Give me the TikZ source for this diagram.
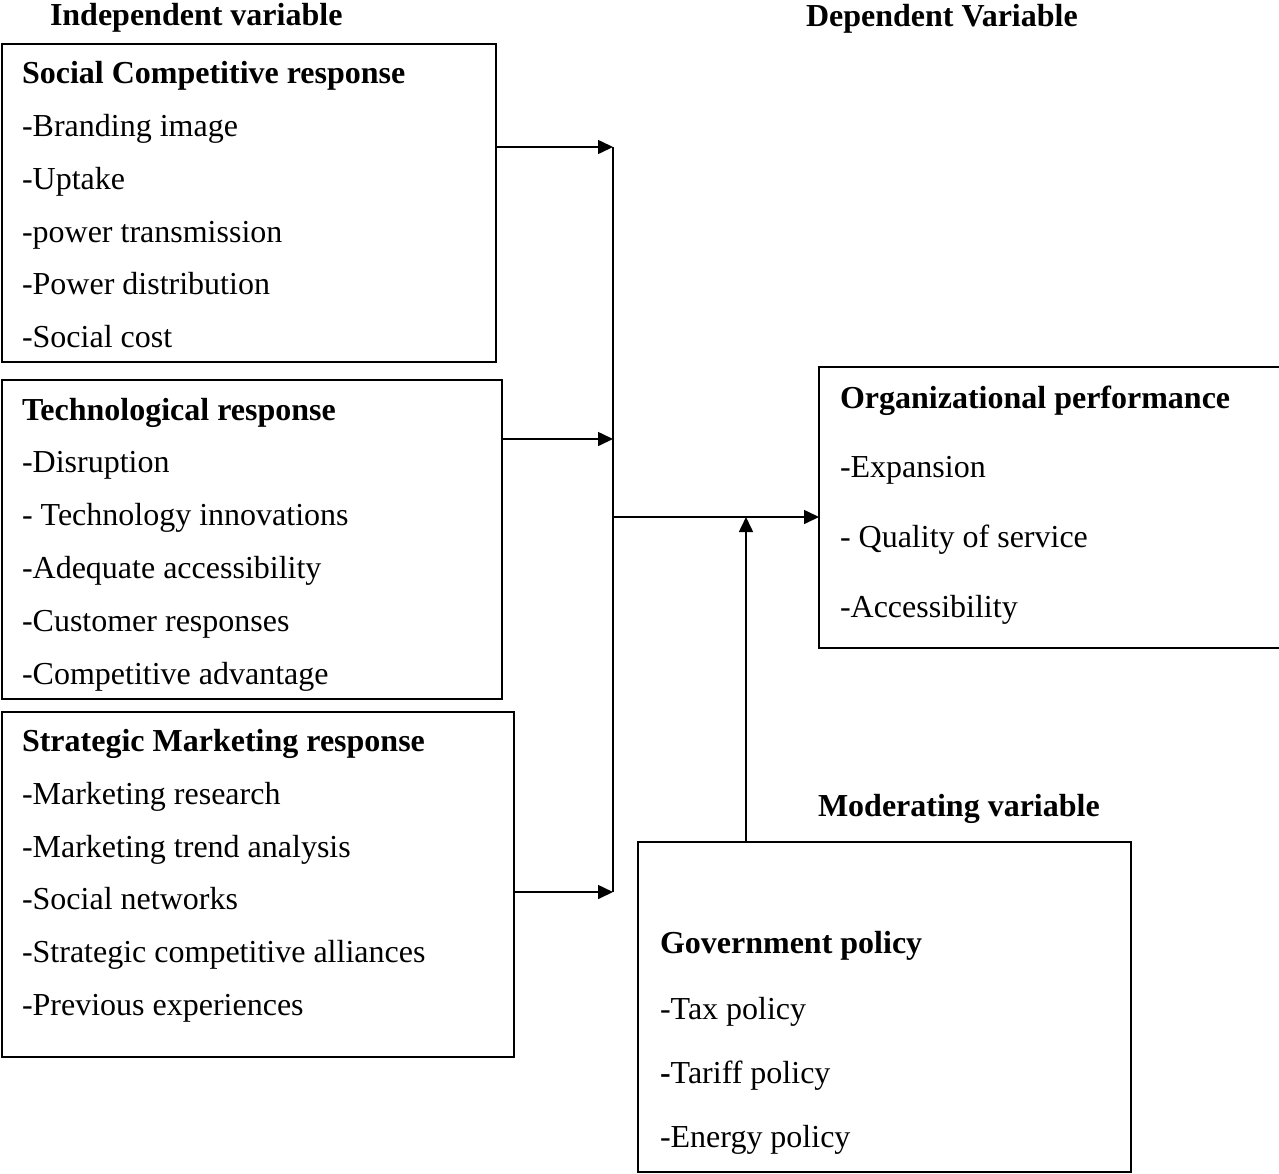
\documentclass[tikz,border=0pt]{standalone}
\usepackage{fontspec}
\setmainfont{Liberation Serif}
\usetikzlibrary{arrows.meta}
\begin{document}
\begin{tikzpicture}[x=1pt,y=-1pt,
  box/.style={draw, line width=1.6pt, inner sep=0pt, outer sep=0pt, anchor=north west},
  txt/.style={anchor=base west, inner sep=0pt, outer sep=0pt, font=\fontsize{32}{38}\selectfont},
  hd/.style={anchor=base west, inner sep=0pt, outer sep=0pt, font=\fontsize{32}{38}\selectfont\bfseries},
  link/.style={line width=1.6pt},
  arr/.style={line width=1.6pt, -{Triangle[length=15pt,width=14pt]}}]
\useasboundingbox (0,0) rectangle (1279,1173);
\clip (0,0) rectangle (1279,1173);

% boxes
\node[box, minimum width=494pt, minimum height=318pt] (b1) at (2,44) {};
\node[box, minimum width=500pt, minimum height=319pt] (b2) at (2,380) {};
\node[box, minimum width=512pt, minimum height=345pt] (b3) at (2,712) {};
\node[box, minimum width=480pt, minimum height=281pt] (b4) at (819,367) {};
\node[box, minimum width=493pt, minimum height=330pt] (b5) at (638,842) {};

% headers
\node[hd] (h1) at (50,25) {Independent variable};
\node[hd] (h2) at (806,26) {Dependent Variable};
\node[hd] (h3) at (818,816) {Moderating variable};

% box 1
\node[hd]  (t10) at (22,83)  {Social Competitive response};
\node[txt] (t11) at (22,136) {-Branding image};
\node[txt] (t12) at (22,189) {-Uptake};
\node[txt] (t13) at (22,242) {-power transmission};
\node[txt] (t14) at (22,294) {-Power distribution};
\node[txt] (t15) at (22,347) {-Social cost};

% box 2
\node[hd]  (t20) at (22,420) {Technological response};
\node[txt] (t21) at (22,472) {-Disruption};
\node[txt] (t22) at (22,525) {- Technology innovations};
\node[txt] (t23) at (22,578) {-Adequate accessibility};
\node[txt] (t24) at (22,631) {-Customer responses};
\node[txt] (t25) at (22,684) {-Competitive advantage};

% box 3
\node[hd]  (t30) at (22,751)  {Strategic Marketing response};
\node[txt] (t31) at (22,804)  {-Marketing research};
\node[txt] (t32) at (22,857)  {-Marketing trend analysis};
\node[txt] (t33) at (22,909)  {-Social networks};
\node[txt] (t34) at (22,962)  {-Strategic competitive alliances};
\node[txt] (t35) at (22,1015) {-Previous experiences};

% box 4
\node[hd]  (t40) at (840,408) {Organizational performance};
\node[txt] (t41) at (840,477) {-Expansion};
\node[txt] (t42) at (840,547) {- Quality of service};
\node[txt] (t43) at (840,617) {-Accessibility};

% box 5
\node[hd]  (t50) at (660,953)  {Government policy};
\node[txt] (t51) at (660,1019) {-Tax policy};
\node[txt] (t52) at (660,1083) {\textbf{-}Tariff policy};
\node[txt] (t53) at (660,1147) {-Energy policy};

% junction coordinates
\coordinate (j1) at (613,147);
\coordinate (j2) at (613,439);
\coordinate (j3) at (613,892);
\coordinate (jm) at (613,517);
\coordinate (jv) at (746,517);

% connectors
\draw[link] (j1) -- (j3);
\draw[arr] (b1.east |- j1) -- (j1);
\draw[arr] (b2.east |- j2) -- (j2);
\draw[arr] (b3.east |- j3) -- (j3);
\draw[arr] (jm) -- (b4.west |- jm);
\draw[arr] (jv |- b5.north) -- (jv);
\end{tikzpicture}
\end{document}
